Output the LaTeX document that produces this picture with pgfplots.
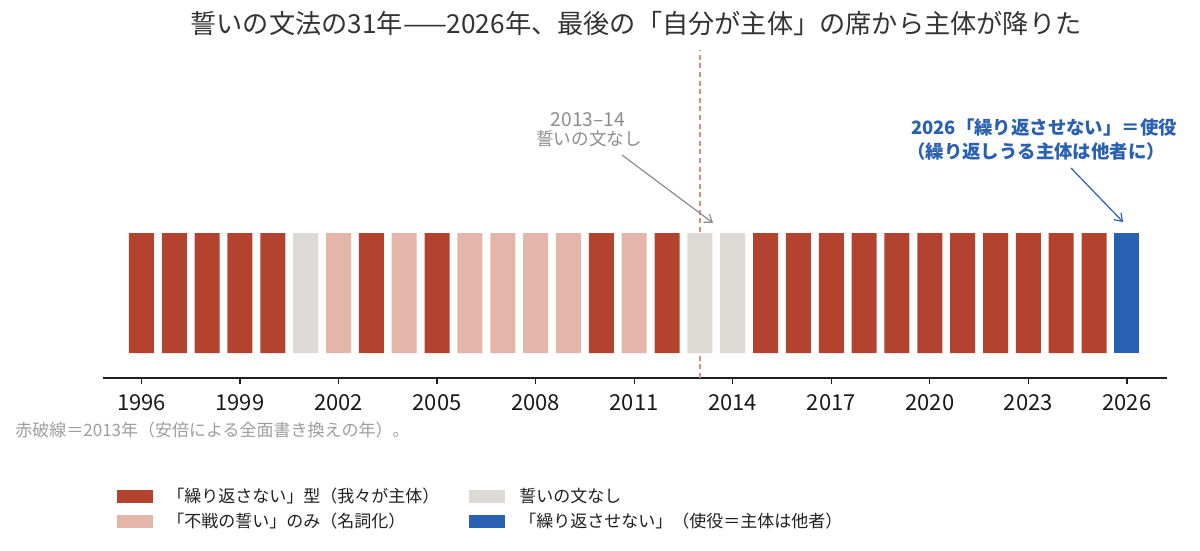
\documentclass[border=0pt]{standalone}
\usepackage{fontspec}
\setmainfont{Noto Sans CJK JP}
\usepackage{pgfplots}
\pgfplotsset{compat=1.18}
\usepackage{pgfplotstable}
\usetikzlibrary{arrows.meta}
\definecolor{cRed}{HTML}{B3432F}
\definecolor{cPink}{HTML}{E4B6AA}
\definecolor{cGray}{HTML}{DDD9D4}
\definecolor{cBlue}{HTML}{2A60B2}
\definecolor{cDash}{HTML}{DB8E7F}
\definecolor{cNote}{HTML}{8C8C8C}
\definecolor{cTitle}{HTML}{333333}

\pgfplotstableread{
year val
1996 120
1997 120
1998 120
1999 120
2000 120
2003 120
2005 120
2010 120
2012 120
2015 120
2016 120
2017 120
2018 120
2019 120
2020 120
2021 120
2022 120
2023 120
2024 120
2025 120
}\redtab
\pgfplotstableread{
year val
2002 120
2004 120
2006 120
2007 120
2008 120
2009 120
2011 120
}\pinktab
\pgfplotstableread{
year val
2001 120
2013 120
2014 120
}\graytab
\pgfplotstableread{
year val
2026 120
}\bluetab

\begin{document}
\begin{tikzpicture}
\path[use as bounding box] (0pt,0pt) rectangle (600pt,-275.5pt);
\begin{axis}[
  at={(51.5pt,-189pt)}, anchor=south west,
  scale only axis, width=532pt, height=164pt,
  xmin=1994.83, xmax=2027.22, ymin=-25, ymax=303,
  axis x line=bottom, axis y line=none,
  axis line style={-, line width=1pt, color=black!88},
  xtick={1996,1999,...,2026}, xtick align=outside, major tick length=3pt,
  tick style={line width=0.6pt, color=black!88},
  xticklabel style={font=\fontsize{11}{13}\selectfont, text=black!90, yshift=-1.5pt},
  /pgf/number format/assume math mode=true,
  /pgf/number format/set thousands separator={},
  legend columns=2,
  legend cell align=left,
  legend image code/.code={\fill[#1] (0pt,-3.25pt) rectangle (18pt,3.25pt);},
  legend style={draw=none, fill=none, at={(0.0132,-0.322)}, anchor=north west,
    inner sep=0pt, row sep=-0.5pt,
    font=\fontsize{8.5}{10}\selectfont, text=black!88,
    /tikz/every odd column/.append style={column sep=5pt},
    /tikz/every even column/.append style={column sep=13pt}},
]
\addplot[cDash, line width=0.9pt, dash pattern=on 2.5pt off 1.8pt, forget plot] coordinates {(2013,-25) (2013,303)};
\addplot[ybar, bar shift=0pt, bar width=12.5pt, fill=cRed, draw=none] table[x=year,y=val] {\redtab};
\addlegendentry{「繰り返さない」型（我々が主体）}
\addplot[ybar, bar shift=0pt, bar width=12.5pt, fill=cGray, draw=none] table[x=year,y=val] {\graytab};
\addlegendentry{誓いの文なし}
\addplot[ybar, bar shift=0pt, bar width=12.5pt, fill=cPink, draw=none] table[x=year,y=val] {\pinktab};
\addlegendentry{「不戦の誓い」のみ（名詞化）}
\addplot[ybar, bar shift=0pt, bar width=12.5pt, fill=cBlue, draw=none] table[x=year,y=val] {\bluetab};
\addlegendentry{「繰り返させない」（使役＝主体は他者）}
\end{axis}
% title
\node[text=cTitle, font=\fontsize{13.1}{15}\selectfont] at (318pt,-12pt) {誓いの文法の31年——2026年、最後の「自分が主体」の席から主体が降りた};
% gray annotation
\node[text=cNote, font=\fontsize{9.6}{11}\selectfont] at (294pt,-60pt) {2013–14};
\node[text=cNote, font=\fontsize{8.8}{10}\selectfont] at (294.5pt,-69.5pt) {誓いの文なし};
\draw[cNote, line width=0.6pt, -{Straight Barb[length=3.5pt,width=5pt]}] (311pt,-77.5pt) -- (356.5pt,-111.5pt);
% blue annotation
\node[text=cBlue, font=\fontsize{9.2}{10}\selectfont\bfseries] at (522pt,-64pt) {2026「繰り返させない」＝使役};
\node[text=cBlue, font=\fontsize{9.2}{10}\selectfont\bfseries] at (518pt,-76pt) {（繰り返しうる主体は他者に）};
\draw[cBlue, line width=0.6pt, -{Straight Barb[length=3.5pt,width=5pt]}] (535.5pt,-84pt) -- (561.5pt,-111pt);
% footnote
\node[anchor=west, inner sep=0pt, text=cNote!85!white, font=\fontsize{8.5}{10}\selectfont] at (7.5pt,-215pt) {赤破線＝2013年（安倍による全面書き換えの年）。};
\end{tikzpicture}
\end{document}
